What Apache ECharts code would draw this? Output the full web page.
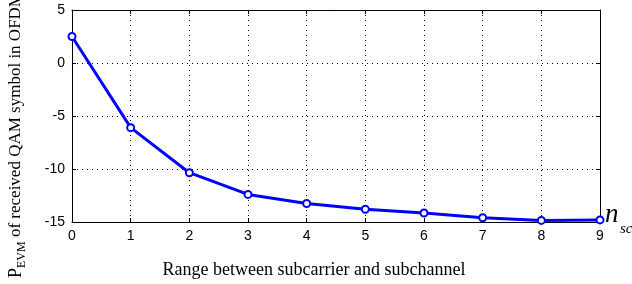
<!DOCTYPE html>
<html>
<head>
<meta charset="utf-8">
<script src="https://cdn.jsdelivr.net/npm/echarts@6/dist/echarts.min.js"></script>
<style>
  html, body { margin: 0; padding: 0; background: #fff; }
  #chart { width: 632px; height: 284px; }
</style>
</head>
<body>
<div id="chart"></div>
<script>
// range between subcarrier and subchannel (n_sc)
var nsc = [0, 1, 2, 3, 4, 5, 6, 7, 8, 9];
// P_EVM values
var pevm = [2.5, -6.1, -10.35, -12.4, -13.25, -13.8, -14.15, -14.6, -14.85, -14.8];

var points = [];
for (var i = 0; i < nsc.length; i++) {
    points.push([nsc[i], pevm[i]]);
}

var chart = echarts.init(document.getElementById('chart'));

var tickFont = { fontFamily: 'Liberation Sans', fontSize: 14, color: '#000' };
var dotted = { show: true, lineStyle: { color: '#000', type: [1, 4], width: 1 } };

option = {
    backgroundColor: '#fff',
    animation: false,
    grid: { left: 72, right: 32, top: 10, bottom: 62, outerBoundsMode: 'none' },
    xAxis: [
        {
            type: 'value', min: 0, max: 9, interval: 1,
            axisLine: { onZero: false, lineStyle: { color: '#000', width: 1 } },
            axisTick: { inside: true, length: 4, lineStyle: { color: '#000' } },
            axisLabel: Object.assign({ margin: 7 }, tickFont),
            splitLine: dotted
        },
        {
            type: 'value', min: 0, max: 9, interval: 1, position: 'top',
            axisLine: { onZero: false, lineStyle: { color: '#000', width: 1 } },
            axisTick: { inside: true, length: 4, lineStyle: { color: '#000' } },
            axisLabel: { show: false },
            splitLine: { show: false }
        }
    ],
    yAxis: [
        {
            type: 'value', min: -15, max: 5, interval: 5,
            axisLine: { show: true, onZero: false, lineStyle: { color: '#000', width: 1 } },
            axisTick: { show: true, inside: true, length: 4, lineStyle: { color: '#000' } },
            axisLabel: Object.assign({ margin: 7 }, tickFont),
            splitLine: dotted
        },
        {
            type: 'value', min: -15, max: 5, interval: 5, position: 'right',
            axisLine: { show: true, onZero: false, lineStyle: { color: '#000', width: 1 } },
            axisTick: { show: true, inside: true, length: 4, lineStyle: { color: '#000' } },
            axisLabel: { show: false },
            splitLine: { show: false }
        }
    ],
    graphic: [
        {
            type: 'text', x: 16, y: 278, rotation: Math.PI / 2,
            style: {
                text: '{p|P}{s|EVM}{t| of received QAM symbol in OFDM}',
                align: 'left', verticalAlign: 'middle', fill: '#000',
                rich: {
                    p: { fontFamily: 'Liberation Serif', fontSize: 18 },
                    s: { fontFamily: 'Liberation Serif', fontSize: 12, padding: [12, 0, 0, 0] },
                    t: { fontFamily: 'Liberation Serif', fontSize: 17 }
                }
            }
        },
        {
            type: 'text', x: 314, y: 270,
            style: { text: 'Range between subcarrier and subchannel', fontFamily: 'Liberation Serif', fontSize: 18, fill: '#000', align: 'center', verticalAlign: 'middle' }
        },
        {
            type: 'text', x: 605, y: 228,
            style: { text: 'n', fontFamily: 'Liberation Serif', fontStyle: 'italic', fontSize: 27, fill: '#000', align: 'left', verticalAlign: 'bottom' }
        },
        {
            type: 'text', x: 620, y: 237,
            style: { text: 'sc', fontFamily: 'Liberation Serif', fontStyle: 'italic', fontSize: 15, fill: '#000', align: 'left', verticalAlign: 'bottom' }
        }
    ],
    series: [
        {
            type: 'line',
            data: points,
            symbol: 'emptyCircle',
            symbolSize: 7,
            lineStyle: { color: '#0000ff', width: 3 },
            itemStyle: { color: '#0000ff', borderColor: '#0000ff', borderWidth: 2 }
        }
    ]
};

chart.setOption(option);
</script>
</body>
</html>
